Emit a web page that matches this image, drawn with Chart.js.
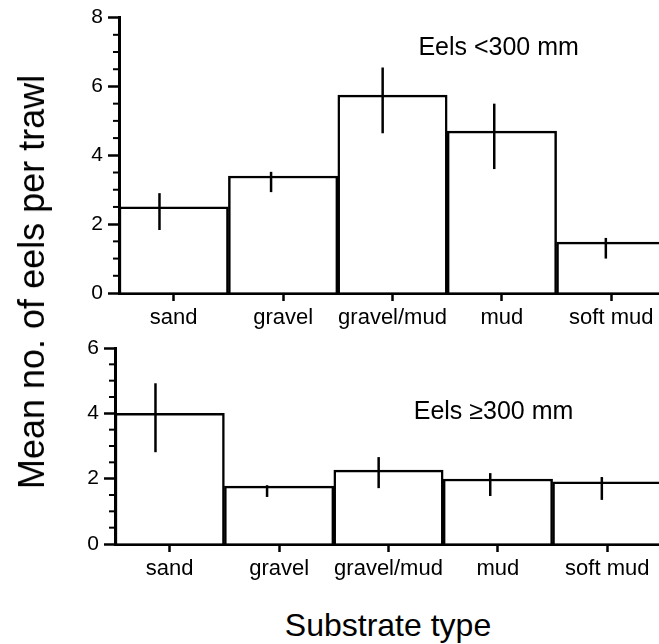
<!DOCTYPE html>
<html>
<head>
<meta charset="utf-8">
<script src="https://cdn.jsdelivr.net/npm/chart.js@4"></script>
<style>
  html, body { margin: 0; padding: 0; background: #fff; overflow: hidden; }
  body { width: 659px; height: 644px; position: relative; font-family: "Liberation Sans", Arial, sans-serif; }
  canvas { position: absolute; left: 0; }
  #topChart { top: 0; }
  #bottomChart { top: 325px; }
  .ytitle { position: absolute; left: 32px; top: 282px; transform: translate(-50%, -50%) rotate(-90deg); font-size: 36px; white-space: nowrap; color: #000; }
  .xtitle { position: absolute; left: 388px; top: 607px; transform: translateX(-50%); font-size: 32px; line-height: 36px; white-space: nowrap; color: #000; }
</style>
</head>
<body>
<canvas id="topChart" width="680" height="340"></canvas>
<canvas id="bottomChart" width="680" height="275"></canvas>
<div class="ytitle">Mean no. of eels per trawl</div>
<div class="xtitle">Substrate type</div>
<script>
// Substrate categories
const substrates = ["sand", "gravel", "gravel/mud", "mud", "soft mud"]

// Eels < 300 mm
const smallMeans = [2.5, 3.4, 5.75, 4.7, 1.48]
const smallLow = [1.83, 2.93, 4.64, 3.6, 1.0]
const smallHigh = [2.9, 3.52, 6.55, 5.5, 1.6]

// Eels >= 300 mm
const largeMeans = [4.0, 1.77, 2.26, 1.99, 1.9]
const largeLow = [2.81, 1.44, 1.71, 1.47, 1.35]
const largeHigh = [4.92, 1.8, 2.66, 2.17, 2.05]

const FONT = "'Liberation Sans', Arial, sans-serif"

// error bars, drawn a little left of the bar centre as in the original
const errorBars = {
  id: "errorBars",
  afterDatasetsDraw(chart, args, opts) {
    const ctx = chart.ctx
    const y = chart.scales.y
    const bars = chart.getDatasetMeta(0).data
    ctx.save()
    ctx.strokeStyle = "#000"
    ctx.lineWidth = 2.5
    bars.forEach((bar, i) => {
      const x = bar.x + bar.width * (-0.13 + 0.02 * i)
      ctx.beginPath()
      ctx.moveTo(x, y.getPixelForValue(opts.high[i]))
      ctx.lineTo(x, y.getPixelForValue(opts.low[i]))
      ctx.stroke()
    })
    ctx.restore()
  },
}

// short minor ticks every 0.5 on the y axis
const minorTicks = {
  id: "minorTicks",
  afterDraw(chart) {
    const ctx = chart.ctx
    const y = chart.scales.y
    ctx.save()
    ctx.strokeStyle = "#000"
    ctx.lineWidth = 2
    for (let v = y.min; v <= y.max; v += 0.5) {
      if (v % 2 === 0) continue
      const py = y.getPixelForValue(v)
      ctx.beginPath()
      ctx.moveTo(y.right - 6, py)
      ctx.lineTo(y.right, py)
      ctx.stroke()
    }
    ctx.restore()
  },
}

// panel label inside the plot
const panelNote = {
  id: "panelNote",
  afterDraw(chart, args, opts) {
    const ctx = chart.ctx
    ctx.save()
    ctx.fillStyle = "#000"
    ctx.font = "25px " + FONT
    ctx.textAlign = "center"
    ctx.textBaseline = "alphabetic"
    ctx.fillText(opts.text, chart.scales.x.getPixelForValue(opts.at[0]), chart.scales.y.getPixelForValue(opts.at[1]))
    ctx.restore()
  },
}

function createPanel(canvasId, means, low, high, yMax, note, noteAt, axisLeft, padTop, padRight, xHeight) {
  const ctx = document.getElementById(canvasId).getContext("2d")
  return new Chart(ctx, {
    type: "bar",
    data: {
      labels: substrates,
      datasets: [
        {
          data: means,
          backgroundColor: "#fff",
          borderColor: "#000",
          borderWidth: 2.5,
          barPercentage: 1,
          categoryPercentage: 1,
        },
      ],
    },
    options: {
      responsive: false,
      animation: false,
      layout: { padding: { top: padTop, right: padRight, left: 0, bottom: 0 } },
      plugins: {
        legend: { display: false },
        tooltip: { enabled: false },
        errorBars: { low: low, high: high },
        panelNote: { text: note, at: noteAt },
      },
      scales: {
        x: {
          afterFit: (scale) => { scale.height = xHeight },
          grid: { offset: false, drawOnChartArea: false, tickLength: 8, tickWidth: 2.5, color: "#000" },
          border: { display: true, width: 3, color: "#000" },
          ticks: {
            color: "#000",
            padding: 4,
            autoSkip: false,
            maxRotation: 0,
            minRotation: 0,
            font: { family: FONT, size: 22 },
          },
        },
        y: {
          min: 0,
          max: yMax,
          afterFit: (scale) => { scale.width = axisLeft },
          grid: { drawOnChartArea: false, tickLength: 11, tickWidth: 2.5, color: "#000" },
          border: { display: true, width: 3, color: "#000" },
          ticks: { stepSize: 2, color: "#000", padding: 5, font: { family: FONT, size: 21 } },
        },
      },
    },
    plugins: [errorBars, minorTicks, panelNote],
  })
}

createPanel("topChart", smallMeans, smallLow, smallHigh, 8, "Eels <300 mm", [2.97, 6.9], 119, 17, 14, 47)
createPanel("bottomChart", largeMeans, largeLow, largeHigh, 6, "Eels \u2265300 mm", [2.96, 3.82], 115, 23, 18, 56)
</script>
</body>
</html>
